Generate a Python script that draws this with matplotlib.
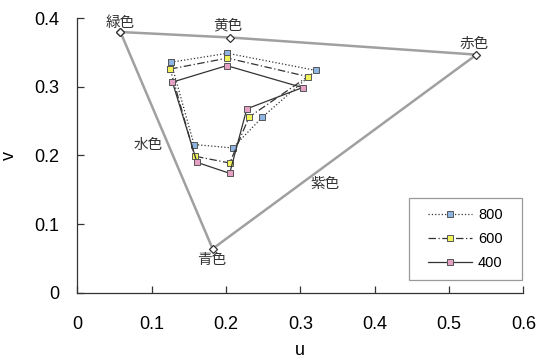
import matplotlib.pyplot as plt
from matplotlib.patches import Rectangle

plt.rcParams['font.family'] = ['Liberation Sans', 'Noto Sans CJK JP', 'DejaVu Sans']

# gamut triangle (green, yellow, red, blue)
tri_names = ['緑色', '黄色', '赤色', '青色']
tri_u = [0.058, 0.206, 0.537, 0.182]
tri_v = [0.380, 0.372, 0.347, 0.064]

# measured series
series_names = ['800', '600', '400']
u800 = [0.126, 0.202, 0.321, 0.249, 0.209, 0.157]
v800 = [0.336, 0.349, 0.324, 0.256, 0.211, 0.216]
u600 = [0.125, 0.202, 0.310, 0.231, 0.205, 0.158]
v600 = [0.326, 0.342, 0.315, 0.256, 0.189, 0.199]
u400 = [0.128, 0.201, 0.303, 0.228, 0.205, 0.161]
v400 = [0.307, 0.331, 0.299, 0.268, 0.174, 0.190]

fig = plt.figure(figsize=(5.38, 3.63), dpi=100)
ax = fig.add_axes([0.1437, 0.1937, 0.8290, 0.7559])

# triangle
tu = tri_u + tri_u[:1]
tv = tri_v + tri_v[:1]
ax.plot(tu, tv, color='#a0a0a0', lw=1.8, marker='D', ms=4.5,
        mfc='white', mec='#333333', mew=0.9, zorder=2)

styles = [(':', '#8db4e2'), ((0, (6, 2, 1, 2)), '#f2f25a'), ('-', '#e6a0c4')]
for name, u, v, (ls, c) in zip(series_names, [u800, u600, u400], [v800, v600, v400], styles):
    ax.plot(u + u[:1], v + v[:1], ls=ls, color='#333333', lw=0.9, marker='s',
            ms=4.2, mfc=c, mec='#555555', mew=0.7, label=name, zorder=3)

# labels on the triangle
lab_kw = dict(fontsize=10.5, family=['Noto Sans CJK JP', 'DejaVu Sans'], color='#333333',
              ha='center', va='center')
ax.text(tri_u[0], 0.393, tri_names[0], **lab_kw)
ax.text(0.203, 0.390, tri_names[1], **lab_kw)
ax.text(0.534, 0.3625, tri_names[2], **lab_kw)
ax.text(0.181, 0.047, tri_names[3], **lab_kw)
ax.text(0.0955, 0.2153, '水色', **lab_kw)
ax.text(0.333, 0.158, '紫色', **lab_kw)

ax.set_xlim(0, 0.6)
ax.set_ylim(0, 0.4)
ax.set_xticks([0, 0.1, 0.2, 0.3, 0.4, 0.5, 0.6])
ax.set_yticks([0, 0.1, 0.2, 0.3, 0.4])
ax.set_xticklabels(['0', '0.1', '0.2', '0.3', '0.4', '0.5', '0.6'])
ax.set_yticklabels(['0', '0.1', '0.2', '0.3', '0.4'])
ax.tick_params(direction='in', length=5, width=0.9, color='#333333',
               labelsize=13)
ax.tick_params(axis='x', pad=17)
ax.tick_params(axis='y', pad=13)
for s in ['top', 'right']:
    ax.spines[s].set_visible(False)
for s in ['left', 'bottom']:
    ax.spines[s].set_color('#333333')
    ax.spines[s].set_linewidth(0.9)

ax.set_xlabel('u', fontsize=13, labelpad=6)
ax.set_ylabel('v', fontsize=13, labelpad=12)

# legend box drawn separately so the entries sit centred in a wider frame
ax.add_patch(Rectangle((0.7437, 0.046), 0.2533, 0.299, transform=ax.transAxes,
                       facecolor='white', edgecolor='#999999', lw=0.9, zorder=4,
                       clip_on=False))
leg = ax.legend(loc='center', bbox_to_anchor=(0.8703, 0.1955), fontsize=10.5,
                frameon=False, handlelength=3.0, handletextpad=0.4,
                labelspacing=0.68, borderpad=0.0, borderaxespad=0.0)
leg.set_zorder(5)

fig.savefig('out.png', dpi=100)
